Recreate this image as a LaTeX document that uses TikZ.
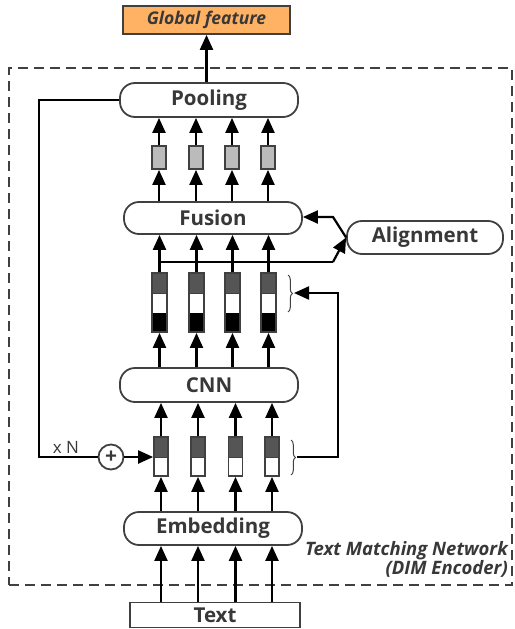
\documentclass[tikz,border=0pt]{standalone}
\usepackage{fontspec}
\setmainfont{Open Sans}
\usetikzlibrary{arrows.meta,decorations.pathreplacing}
\definecolor{bord}{HTML}{404040}
\definecolor{txt}{HTML}{383838}
\definecolor{orangefill}{RGB}{255,178,100}
\definecolor{poolgray}{HTML}{BBBBBB}
\definecolor{darkseg}{HTML}{555555}
\tikzset{
  arr/.style={line width=2.2pt,-{Triangle[length=15pt,width=13pt]}},
  ln/.style={line width=2.2pt},
  roundbox/.style={draw=bord,line width=1.8pt,rounded corners=15pt,fill=white,
    minimum width=178pt,inner sep=0pt,font=\fontsize{20.5}{24}\selectfont\bfseries,text=txt},
  plainbox/.style={draw=bord,line width=1.8pt,inner sep=0pt,text=txt},
  poolrect/.style={draw=bord,line width=1.8pt,fill=poolgray,minimum width=14pt,minimum height=23pt,inner sep=0pt},
  midrect/.style={draw=bord,line width=1.8pt,fill=white,minimum width=15pt,minimum height=59pt,inner sep=0pt,
    path picture={
      \fill[darkseg] (path picture bounding box.north west) rectangle ([yshift=-20pt]path picture bounding box.north east);
      \fill[black] (path picture bounding box.south west) rectangle ([yshift=19pt]path picture bounding box.south east);
      \draw[bord,line width=1pt] ([yshift=-20pt]path picture bounding box.north west) -- ([yshift=-20pt]path picture bounding box.north east);
    }},
  lowrect/.style={draw=bord,line width=1.8pt,fill=white,minimum width=14pt,minimum height=39pt,inner sep=0pt,
    path picture={
      \fill[darkseg] (path picture bounding box.north west) rectangle ([yshift=-20pt]path picture bounding box.north east);
      \draw[bord,line width=1pt] ([yshift=-20pt]path picture bounding box.north west) -- ([yshift=-20pt]path picture bounding box.north east);
    }},
  bracestyle/.style={draw=bord,line width=1pt,decorate,decoration={brace,amplitude=4.5pt}},
  frame/.style={draw=bord,line width=1.8pt,dash pattern=on 10pt off 6pt}
}
\begin{document}
\begin{tikzpicture}[x=1pt,y=-1pt]
\useasboundingbox (0,0) rectangle (514,629);
% frame
\node[frame,minimum width=503pt,minimum height=517pt,inner sep=0pt] (frame) at (260.5,326.5) {};
\node[anchor=south east,align=right,inner sep=0pt,text=txt,font=\fontsize{18.5}{19}\selectfont\bfseries\itshape] (lbl) at (508,578) {Text Matching Network\\(DIM Encoder)};
% main boxes
\node[plainbox,fill=orangefill,minimum width=167pt,minimum height=28pt,font=\fontsize{17.5}{20}\selectfont\bfseries\itshape] (glob) at (206.5,20) {Global feature};
\node[roundbox,minimum height=34pt] (pool) at (209,100) {Pooling};
\node[roundbox,minimum height=32pt] (fus) at (213,218) {Fusion};
\node[roundbox,minimum width=156pt,minimum height=33pt] (align) at (425,237.5) {Alignment};
\node[roundbox,minimum height=34pt] (cnn) at (209,385) {CNN};
\node[roundbox,minimum height=33pt] (emb) at (213,528.5) {Embedding};
\node[plainbox,minimum width=170pt,minimum height=25pt,font=\fontsize{20.5}{24}\selectfont\bfseries] (txtbox) at (215,615) {Text};
% column rects
\foreach \i/\x in {1/159,2/196,3/232,4/268}{
  \node[poolrect] (p\i) at (\x,157.5) {};
  \node[midrect] (m\i) at (\x+0.5,302.5) {};
}
\foreach \i/\x in {1/161,2/198,3/235.5,4/272}{
  \node[lowrect] (l\i) at (\x,456.5) {};
}
% vertical arrows
\foreach \i in {1,2,3,4}{
  \draw[arr] (p\i.north) -- (p\i.north |- pool.south);
  \draw[arr] (p\i.south |- fus.north) -- (p\i.south);
  \draw[arr] (m\i.north) -- (m\i.north |- fus.south);
  \draw[arr] (m\i.south |- cnn.north) -- (m\i.south);
  \draw[arr] (l\i.north) -- (l\i.north |- cnn.south);
  \draw[arr] (l\i.south |- emb.north) -- (l\i.south);
  \draw[arr] (l\i.south |- txtbox.north) -- (l\i.south |- emb.south);
}
\draw[arr] (pool.north -| glob.south) -- (glob.south);
% alignment connections
\coordinate (aj1) at (333,262);
\coordinate (aj2) at (333,217);
\draw[ln] (m1.north |- aj1) -- (aj1);
\draw[arr] (aj1) -- (align.west);
\draw[arr] (align.west) -- (aj2) -- (aj2 -| fus.east);
% braces
\coordinate (bu1) at (288,275);
\coordinate (bu2) at (288,312);
\coordinate (bl1) at (291,440);
\coordinate (bl2) at (291,475);
\draw[bracestyle] (bu1) -- (bu2) coordinate[midway,xshift=6pt] (butip);
\draw[bracestyle] (bl1) -- (bl2) coordinate[midway,xshift=6pt] (bltip);
\coordinate (fb1) at (338,457);
\coordinate (fb2) at (338,293);
\draw[arr] (bltip |- fb1) -- (fb1) -- (fb2) -- (butip |- fb2);
% skip connection
\node[circle,draw=bord,line width=1.8pt,minimum size=25pt,inner sep=0pt,text=txt,font=\fontsize{21}{24}\selectfont\bfseries] (plus) at (111,457) {+};
\coordinate (s1) at (39,100);
\coordinate (s2) at (39,457);
\draw[ln] (pool.west |- s1) -- (s1) -- (s2) -- (plus.west);
\node[text=txt,font=\fontsize{17}{20}\selectfont,inner sep=0pt] (xn) at (66,447) {x N};
\draw[arr] (plus.east) -- (l1.west |- plus.east);
\end{tikzpicture}
\end{document}
